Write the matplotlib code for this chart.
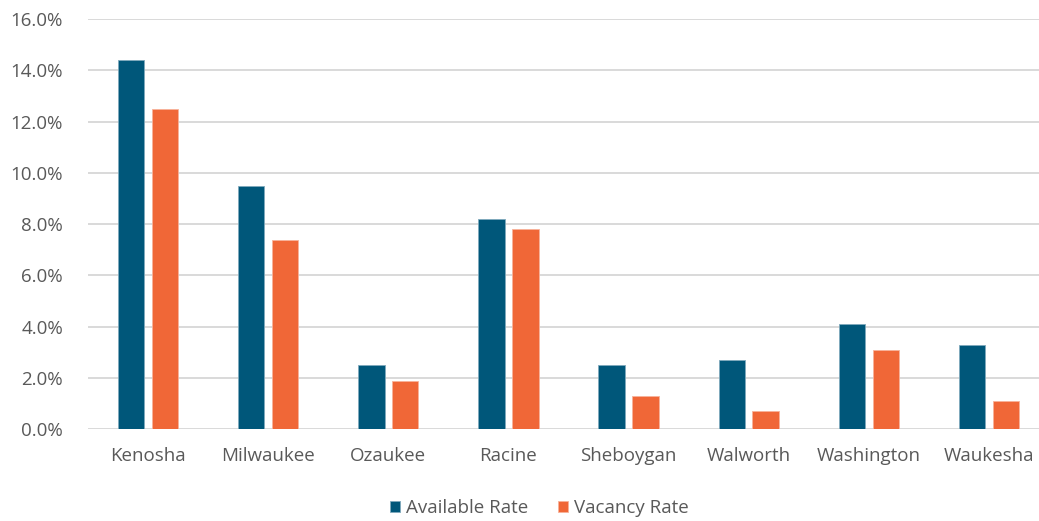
import matplotlib
matplotlib.use("Agg")
import matplotlib.pyplot as plt
import numpy as np
from matplotlib.ticker import FuncFormatter, MultipleLocator

counties = ["Kenosha", "Milwaukee", "Ozaukee", "Racine", "Sheboygan",
            "Walworth", "Washington", "Waukesha"]
available_rate = [14.4, 9.5, 2.5, 8.2, 2.5, 2.7, 4.1, 3.3]
vacancy_rate = [12.5, 7.4, 1.9, 7.8, 1.3, 0.7, 3.1, 1.1]

teal = "#00577A"
orange = "#F06737"
text_gray = "#595959"
grid_gray = "#D9D9D9"

plt.rcParams["font.family"] = ["Open Sans", "DejaVu Sans"]

W, H = 1039, 521
fig = plt.figure(figsize=(W / 100, H / 100), dpi=100)
ax = fig.add_axes([88 / W, (H - 429.3) / H, 961 / W, 410.3 / H])

x = np.arange(len(counties))
bw = 0.219
off = 0.141
ax.bar(x - off, available_rate, bw, color=teal, edgecolor="#7FA9BC",
       linewidth=0.6, label="Available Rate", zorder=3)
ax.bar(x + off, vacancy_rate, bw, color=orange, edgecolor="#F7B39B",
       linewidth=0.6, label="Vacancy Rate", zorder=3)

ax.set_xlim(-0.5, len(counties) - 0.5)
ax.set_ylim(0, 16)
ax.yaxis.set_major_locator(MultipleLocator(2))
ax.yaxis.set_major_formatter(FuncFormatter(lambda v, p: f"{v:.1f}%"))
ax.grid(axis="y", color=grid_gray, linewidth=1.4, zorder=0)
ax.set_axisbelow(True)
for s in ax.spines.values():
    s.set_visible(False)
ax.tick_params(axis="both", length=0, colors=text_gray, labelsize=13.5)
ax.tick_params(axis="y", pad=18)
ax.tick_params(axis="x", pad=13)
ax.set_xticks(x)
ax.set_xticklabels(counties)

leg = fig.legend(loc="center", bbox_to_anchor=(539 / W, (H - 508) / H),
                 ncol=2, frameon=False, fontsize=13.5, handlelength=0.55,
                 handleheight=0.55, handletextpad=0.3, columnspacing=1.6)
for t in leg.get_texts():
    t.set_color(text_gray)

fig.savefig("out.png", dpi=100)
